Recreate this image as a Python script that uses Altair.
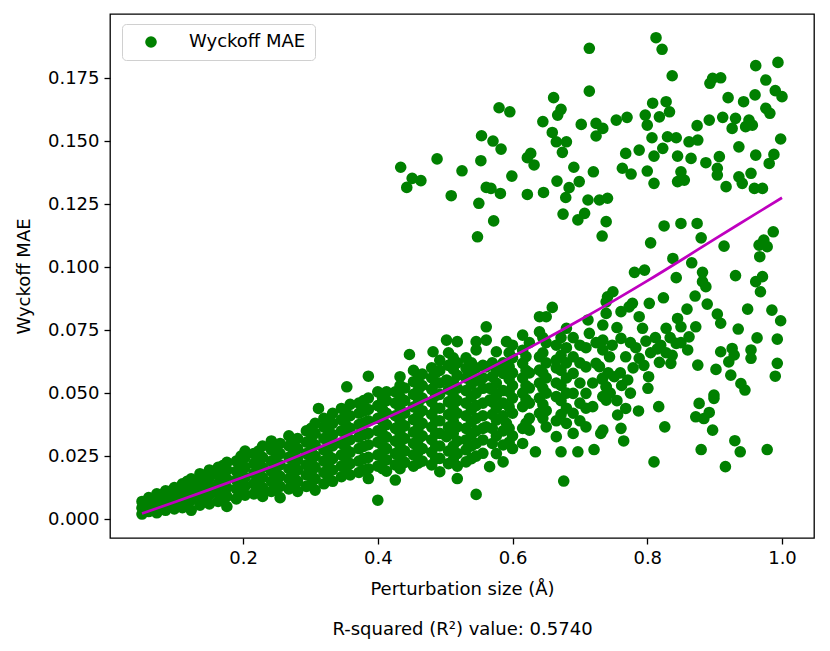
import altair as alt
import pandas as pd

# ---- upper cluster (large MAE group) ----
upper_x = [0.714, 0.714, 0.661, 0.580, 0.596, 0.672, 0.667, 0.645, 0.702, 0.724,
           0.734, 0.724, 0.659, 0.554, 0.571, 0.583, 0.665, 0.680, 0.674, 0.488,
           0.553, 0.627, 0.622, 0.632, 0.434, 0.525, 0.691, 0.720, 0.451, 0.464,
           0.443, 0.599, 0.666, 0.699, 0.684, 0.561, 0.568, 0.582, 0.509, 0.622,
           0.646, 0.679, 0.712, 0.729, 0.741, 0.550, 0.675, 0.707, 0.697, 0.739,
           0.572, 0.548, 0.733,
           0.813, 0.822, 0.837, 0.961, 0.994, 0.976, 0.897, 0.909, 0.893, 0.990,
           1.000, 0.920, 0.960, 0.943, 0.808, 0.828, 0.833, 0.976, 0.982, 0.797,
           0.818, 0.800, 0.754, 0.770, 0.874, 0.892, 0.912, 0.931, 0.951, 0.926,
           0.946, 0.956, 0.807, 0.830, 0.843, 0.862, 0.875, 0.998, 0.823, 0.936,
           0.768, 0.788, 0.810, 0.845, 0.865, 0.907, 0.961, 0.988, 0.887, 0.981,
           0.763, 0.776, 0.800, 0.850, 0.904, 0.904, 0.936, 0.954, 0.810, 0.845,
           0.855, 0.917, 0.941, 0.959, 0.971, 0.825, 0.850, 0.874, 0.880, 0.805,
           0.914, 0.987, 0.973, 0.966]
upper_y = [0.1868, 0.1698, 0.1672, 0.1632, 0.1616, 0.1626, 0.1603, 0.1577, 0.1566, 0.1570,
           0.1550, 0.1520, 0.1534, 0.1521, 0.1500, 0.1468, 0.1497, 0.1497, 0.1455, 0.1429,
           0.1422, 0.1451, 0.1434, 0.1405, 0.1396, 0.1382, 0.1396, 0.1378, 0.1352, 0.1343,
           0.1316, 0.1361, 0.1341, 0.1339, 0.1315, 0.1316, 0.1312, 0.1292, 0.1283, 0.1288,
           0.1296, 0.1276, 0.1266, 0.1266, 0.1273, 0.1253, 0.1210, 0.1213, 0.1187, 0.1180,
           0.1183, 0.1120, 0.1123,
           0.1910, 0.1864, 0.1759, 0.1799, 0.1812, 0.1742, 0.1749, 0.1751, 0.1729, 0.1700,
           0.1676, 0.1672, 0.1683, 0.1656, 0.1650, 0.1656, 0.1616, 0.1630, 0.1610, 0.1603,
           0.1596, 0.1563, 0.1583, 0.1594, 0.1561, 0.1583, 0.1594, 0.1590, 0.1583, 0.1550,
           0.1557, 0.1563, 0.1513, 0.1517, 0.1513, 0.1497, 0.1504, 0.1508, 0.1471, 0.1477,
           0.1451, 0.1464, 0.1440, 0.1440, 0.1431, 0.1438, 0.1444, 0.1447, 0.1414, 0.1411,
           0.1392, 0.1369, 0.1381, 0.1378, 0.1392, 0.1365, 0.1358, 0.1372, 0.1332, 0.1339,
           0.1345, 0.1319, 0.1332, 0.1312, 0.1312, 0.1163, 0.1173, 0.1173, 0.1116, 0.1096,
           0.1083, 0.1140, 0.1107, 0.1087]

# ---- lower-right spread ----
spread_x = [0.978, 0.967, 0.838, 0.866, 0.781, 0.796, 0.843, 0.882, 0.931, 0.971,
            0.961, 0.882, 0.887, 0.968, 0.749, 0.739, 0.824, 0.871, 0.889, 0.778,
            0.803, 0.859, 0.949, 0.985, 0.998, 0.904, 0.909, 0.845, 0.872, 0.935,
            0.963, 0.993, 0.761, 0.773, 0.788, 0.793, 0.828, 0.850, 0.798, 0.862,
            0.761, 0.815, 0.843, 0.860, 0.734, 0.734, 0.909, 0.926, 0.929, 0.954,
            0.954, 0.993, 0.990, 0.875, 0.902, 0.921, 0.924, 0.818, 0.835, 0.744,
            0.768, 0.788, 0.729, 0.751, 0.771, 0.802, 0.801, 0.739, 0.739, 0.939,
            0.945, 0.899, 0.899, 0.877, 0.817, 0.872, 0.892, 0.884, 0.897, 0.756,
            0.768, 0.787, 0.826, 0.761, 0.765, 0.731, 0.930, 0.938, 0.880, 0.978,
            0.810, 0.916,
            0.755, 0.775, 0.783, 0.805, 0.812, 0.820, 0.779, 0.760, 0.795, 0.748,
            0.828, 0.837, 0.850, 0.834, 0.745, 0.755, 0.762, 0.775, 0.733, 0.742]
spread_y = [0.1081, 0.1041, 0.1034, 0.1017, 0.0979, 0.0988, 0.0958, 0.0979, 0.0966, 0.0962,
            0.0942, 0.0942, 0.0922, 0.0902, 0.0902, 0.0862, 0.0878, 0.0885, 0.0853, 0.0856,
            0.0856, 0.0833, 0.0833, 0.0829, 0.0787, 0.0813, 0.0777, 0.0796, 0.0763, 0.0754,
            0.0719, 0.0714, 0.0823, 0.0842, 0.0803, 0.0757, 0.0757, 0.0763, 0.0706, 0.0723,
            0.0717, 0.0675, 0.0697, 0.0671, 0.0770, 0.0710, 0.0664, 0.0677, 0.0651, 0.0671,
            0.0638, 0.0618, 0.0567, 0.0611, 0.0594, 0.0624, 0.0571, 0.0622, 0.0618, 0.0644,
            0.0644, 0.0638, 0.0605, 0.0565, 0.0552, 0.0565, 0.0519, 0.0525, 0.0472, 0.0538,
            0.0512, 0.0492, 0.0479, 0.0459, 0.0446, 0.0406, 0.0423, 0.0399, 0.0353, 0.0413,
            0.0439, 0.0429, 0.0366, 0.0360, 0.0310, 0.0340, 0.0311, 0.0267, 0.0276, 0.0276,
            0.0227, 0.0208,
            0.0760, 0.0700, 0.0680, 0.0660, 0.0720, 0.0690, 0.0600, 0.0580, 0.0610, 0.0690,
            0.0660, 0.0650, 0.0700, 0.0720, 0.0500, 0.0470, 0.0530, 0.0500, 0.0555, 0.0580]

# ---- dense band (low perturbation) ----
band_x = [0.050, 0.050, 0.050, 0.060, 0.060, 0.060, 0.072, 0.072, 0.072, 0.072,
          0.085, 0.085, 0.085, 0.085, 0.098, 0.098, 0.098, 0.098, 0.110, 0.110,
          0.110, 0.110, 0.123, 0.123, 0.123, 0.123, 0.123, 0.136, 0.136, 0.136,
          0.136, 0.136, 0.150, 0.150, 0.150, 0.150, 0.150, 0.163, 0.163, 0.163,
          0.163, 0.163, 0.176, 0.176, 0.176, 0.176, 0.176, 0.176, 0.190, 0.190,
          0.190, 0.190, 0.190, 0.203, 0.203, 0.203, 0.203, 0.203, 0.203, 0.216,
          0.216, 0.216, 0.216, 0.216, 0.229, 0.229, 0.229, 0.229, 0.229, 0.229,
          0.242, 0.242, 0.242, 0.242, 0.242, 0.242, 0.255, 0.255, 0.255, 0.255,
          0.255, 0.255, 0.268, 0.268, 0.268, 0.268, 0.268, 0.268, 0.281, 0.281,
          0.281, 0.281, 0.281, 0.281, 0.294, 0.294, 0.294, 0.294, 0.294, 0.294,
          0.307, 0.307, 0.307, 0.307, 0.307, 0.307, 0.307, 0.312, 0.320, 0.320,
          0.320, 0.320, 0.320, 0.320, 0.320, 0.333, 0.333, 0.333, 0.333, 0.333,
          0.333, 0.333, 0.346, 0.346, 0.346, 0.346, 0.346, 0.346, 0.346, 0.354,
          0.359, 0.359, 0.359, 0.359, 0.359, 0.359, 0.359, 0.372, 0.372, 0.372,
          0.372, 0.372, 0.372, 0.372, 0.386, 0.386, 0.386, 0.386, 0.386, 0.386,
          0.386, 0.386, 0.386, 0.400, 0.400, 0.400, 0.400, 0.400, 0.400, 0.400,
          0.400, 0.413, 0.413, 0.413, 0.413, 0.413, 0.413, 0.413, 0.413, 0.426,
          0.426, 0.426, 0.426, 0.426, 0.426, 0.426, 0.426, 0.433, 0.440, 0.440,
          0.440, 0.440, 0.440, 0.440, 0.440, 0.447, 0.453, 0.453, 0.453, 0.453,
          0.453, 0.453, 0.453, 0.453, 0.453, 0.466, 0.466, 0.466, 0.466, 0.466,
          0.466, 0.466, 0.466, 0.480, 0.480, 0.480, 0.480, 0.480, 0.480, 0.480,
          0.480, 0.480, 0.482, 0.492, 0.492, 0.492, 0.492, 0.492, 0.492, 0.492,
          0.492, 0.492, 0.492, 0.502, 0.502, 0.502, 0.505, 0.505, 0.505, 0.505,
          0.505, 0.505, 0.505, 0.505, 0.518, 0.518, 0.518, 0.518, 0.518, 0.518,
          0.518, 0.518, 0.518, 0.518, 0.518, 0.531, 0.531, 0.531, 0.531, 0.531,
          0.531, 0.531, 0.531, 0.531, 0.531, 0.546, 0.546, 0.546, 0.546, 0.546,
          0.546, 0.546, 0.546, 0.546, 0.546, 0.546, 0.556, 0.556, 0.556, 0.556,
          0.556, 0.556, 0.556, 0.556, 0.561, 0.561, 0.561, 0.561, 0.566, 0.566,
          0.566, 0.576, 0.576, 0.576, 0.576, 0.576, 0.576, 0.576, 0.576, 0.586,
          0.586, 0.586, 0.586, 0.586, 0.586, 0.586, 0.586, 0.591, 0.591, 0.600,
          0.600, 0.600, 0.600, 0.600, 0.600, 0.600, 0.600, 0.615, 0.615, 0.615,
          0.615, 0.615, 0.615, 0.615, 0.615, 0.625, 0.625, 0.625, 0.625, 0.625,
          0.625, 0.634, 0.640, 0.640, 0.640, 0.640, 0.640, 0.640, 0.640, 0.650,
          0.650, 0.650, 0.650, 0.650, 0.650, 0.650, 0.659, 0.665, 0.665, 0.665,
          0.665, 0.665, 0.665, 0.665, 0.672, 0.676, 0.680, 0.680, 0.680, 0.680,
          0.680, 0.680, 0.680, 0.690, 0.690, 0.690, 0.690, 0.690, 0.690, 0.697,
          0.709, 0.709, 0.709, 0.709, 0.709, 0.712, 0.714, 0.719, 0.719, 0.721,
          0.724, 0.724, 0.734, 0.734, 0.734, 0.734, 0.739, 0.739, 0.741]
band_y = [0.0020, 0.0045, 0.0070, 0.0030, 0.0060, 0.0085, 0.0025, 0.0050, 0.0080, 0.0100,
          0.0035, 0.0065, 0.0095, 0.0112, 0.0040, 0.0070, 0.0100, 0.0125, 0.0045, 0.0080,
          0.0110, 0.0140, 0.0035, 0.0075, 0.0105, 0.0135, 0.0160, 0.0055, 0.0090, 0.0120,
          0.0150, 0.0180, 0.0060, 0.0095, 0.0130, 0.0165, 0.0195, 0.0070, 0.0105, 0.0140,
          0.0175, 0.0205, 0.0050, 0.0090, 0.0125, 0.0160, 0.0195, 0.0225, 0.0080, 0.0120,
          0.0155, 0.0190, 0.0230, 0.0095, 0.0130, 0.0165, 0.0205, 0.0245, 0.0270, 0.0100,
          0.0140, 0.0180, 0.0220, 0.0260, 0.0090, 0.0125, 0.0165, 0.0205, 0.0245, 0.0290,
          0.0110, 0.0150, 0.0190, 0.0230, 0.0275, 0.0310, 0.0085, 0.0130, 0.0170, 0.0215,
          0.0260, 0.0300, 0.0120, 0.0160, 0.0200, 0.0245, 0.0290, 0.0330, 0.0110, 0.0150,
          0.0195, 0.0235, 0.0280, 0.0320, 0.0130, 0.0175, 0.0215, 0.0260, 0.0305, 0.0350,
          0.0115, 0.0160, 0.0205, 0.0250, 0.0295, 0.0340, 0.0380, 0.0439, 0.0140, 0.0185,
          0.0230, 0.0275, 0.0320, 0.0365, 0.0400, 0.0150, 0.0195, 0.0240, 0.0290, 0.0335,
          0.0380, 0.0420, 0.0168, 0.0210, 0.0255, 0.0300, 0.0350, 0.0395, 0.0439, 0.0525,
          0.0175, 0.0220, 0.0265, 0.0315, 0.0360, 0.0410, 0.0455, 0.0185, 0.0230, 0.0280,
          0.0325, 0.0375, 0.0420, 0.0460, 0.0161, 0.0200, 0.0245, 0.0295, 0.0340, 0.0390,
          0.0435, 0.0480, 0.0567, 0.0075, 0.0210, 0.0255, 0.0305, 0.0350, 0.0400, 0.0450,
          0.0505, 0.0190, 0.0235, 0.0280, 0.0325, 0.0375, 0.0420, 0.0470, 0.0505, 0.0155,
          0.0215, 0.0260, 0.0310, 0.0360, 0.0410, 0.0460, 0.0505, 0.0565, 0.0225, 0.0270,
          0.0320, 0.0370, 0.0420, 0.0470, 0.0520, 0.0653, 0.0210, 0.0255, 0.0300, 0.0345,
          0.0395, 0.0445, 0.0495, 0.0545, 0.0590, 0.0230, 0.0280, 0.0330, 0.0380, 0.0430,
          0.0480, 0.0530, 0.0575, 0.0215, 0.0265, 0.0315, 0.0365, 0.0415, 0.0465, 0.0515,
          0.0560, 0.0600, 0.0664, 0.0188, 0.0241, 0.0290, 0.0340, 0.0390, 0.0440, 0.0495,
          0.0540, 0.0590, 0.0630, 0.0327, 0.0552, 0.0710, 0.0220, 0.0270, 0.0365, 0.0415,
          0.0465, 0.0515, 0.0610, 0.0660, 0.0161, 0.0210, 0.0260, 0.0310, 0.0366, 0.0420,
          0.0470, 0.0520, 0.0570, 0.0620, 0.0704, 0.0227, 0.0275, 0.0314, 0.0360, 0.0410,
          0.0460, 0.0510, 0.0560, 0.0598, 0.0640, 0.0098, 0.0250, 0.0300, 0.0350, 0.0400,
          0.0450, 0.0500, 0.0550, 0.0600, 0.0671, 0.0704, 0.0261, 0.0314, 0.0360, 0.0410,
          0.0460, 0.0519, 0.0560, 0.0610, 0.0366, 0.0604, 0.0710, 0.0763, 0.0208, 0.0472,
          0.0520, 0.0260, 0.0330, 0.0393, 0.0440, 0.0490, 0.0540, 0.0590, 0.0664, 0.0227,
          0.0294, 0.0350, 0.0410, 0.0460, 0.0510, 0.0578, 0.0620, 0.0380, 0.0704, 0.0280,
          0.0330, 0.0420, 0.0480, 0.0530, 0.0580, 0.0640, 0.0690, 0.0300, 0.0360, 0.0446,
          0.0500, 0.0560, 0.0618, 0.0670, 0.0730, 0.0353, 0.0400, 0.0460, 0.0520, 0.0580,
          0.0700, 0.0267, 0.0420, 0.0480, 0.0540, 0.0591, 0.0644, 0.0743, 0.0803, 0.0366,
          0.0430, 0.0500, 0.0560, 0.0620, 0.0700, 0.0803, 0.0840, 0.0327, 0.0390, 0.0486,
          0.0540, 0.0600, 0.0631, 0.0690, 0.0267, 0.0151, 0.0380, 0.0440, 0.0500, 0.0560,
          0.0620, 0.0680, 0.0757, 0.0340, 0.0420, 0.0499, 0.0578, 0.0644, 0.0720, 0.0267,
          0.0366, 0.0440, 0.0499, 0.0604, 0.0680, 0.0790, 0.0737, 0.0446, 0.0540, 0.0276,
          0.0618, 0.0700, 0.0353, 0.0486, 0.0560, 0.0671, 0.0816, 0.0525, 0.0882]

# ---- dense band, in-between points ----
fill_x = [0.0665, 0.0665,
          0.0915, 0.0915, 0.0915,
          0.117, 0.117, 0.117, 0.117,
          0.143, 0.143, 0.143, 0.143,
          0.170, 0.170, 0.170, 0.170, 0.170,
          0.197, 0.197, 0.197, 0.197, 0.197,
          0.223, 0.223, 0.223, 0.223, 0.223,
          0.249, 0.249, 0.249, 0.249, 0.249,
          0.275, 0.275, 0.275, 0.275, 0.275,
          0.301, 0.301, 0.301, 0.301, 0.301, 0.301,
          0.327, 0.327, 0.327, 0.327, 0.327, 0.327,
          0.353, 0.353, 0.353, 0.353, 0.353, 0.353,
          0.379, 0.379, 0.379, 0.379, 0.379, 0.379, 0.379,
          0.407, 0.407, 0.407, 0.407, 0.407, 0.407, 0.407,
          0.433, 0.433, 0.433, 0.433, 0.433, 0.433, 0.433, 0.433,
          0.460, 0.460, 0.460, 0.460, 0.460, 0.460, 0.460, 0.460,
          0.486, 0.486, 0.486, 0.486, 0.486, 0.486, 0.486, 0.486,
          0.512, 0.512, 0.512, 0.512, 0.512, 0.512, 0.512, 0.512, 0.512,
          0.539, 0.539, 0.539, 0.539, 0.539, 0.539, 0.539, 0.539, 0.539,
          0.570, 0.570, 0.570, 0.570, 0.570, 0.570, 0.570,
          0.595, 0.595, 0.595, 0.595, 0.595, 0.595, 0.595,
          0.620, 0.620, 0.620, 0.620, 0.620,
          0.645, 0.645, 0.645, 0.645, 0.645, 0.645,
          0.672, 0.672, 0.672, 0.672, 0.672, 0.672,
          0.700, 0.700, 0.700, 0.700, 0.700]
fill_y = [0.0040, 0.0070,
          0.0055, 0.0085, 0.0110,
          0.0060, 0.0090, 0.0122, 0.0150,
          0.0075, 0.0108, 0.0140, 0.0170,
          0.0075, 0.0110, 0.0145, 0.0180, 0.0212,
          0.0100, 0.0140, 0.0175, 0.0212, 0.0250,
          0.0110, 0.0150, 0.0190, 0.0230, 0.0270,
          0.0120, 0.0160, 0.0200, 0.0245, 0.0288,
          0.0135, 0.0175, 0.0220, 0.0265, 0.0305,
          0.0138, 0.0183, 0.0228, 0.0272, 0.0318, 0.0360,
          0.0163, 0.0208, 0.0252, 0.0298, 0.0345, 0.0390,
          0.0190, 0.0232, 0.0278, 0.0325, 0.0372, 0.0420,
          0.0195, 0.0240, 0.0288, 0.0335, 0.0382, 0.0428, 0.0470,
          0.0200, 0.0245, 0.0292, 0.0338, 0.0388, 0.0435, 0.0480,
          0.0200, 0.0245, 0.0290, 0.0340, 0.0390, 0.0440, 0.0485, 0.0530,
          0.0222, 0.0268, 0.0315, 0.0362, 0.0412, 0.0462, 0.0512, 0.0560,
          0.0240, 0.0290, 0.0340, 0.0390, 0.0440, 0.0490, 0.0538, 0.0580,
          0.0235, 0.0290, 0.0340, 0.0390, 0.0440, 0.0490, 0.0545, 0.0595, 0.0640,
          0.0240, 0.0290, 0.0335, 0.0385, 0.0435, 0.0485, 0.0535, 0.0580, 0.0620,
          0.0300, 0.0360, 0.0415, 0.0465, 0.0515, 0.0565, 0.0620,
          0.0305, 0.0360, 0.0445, 0.0505, 0.0555, 0.0605, 0.0660,
          0.0380, 0.0475, 0.0530, 0.0590, 0.0645,
          0.0400, 0.0455, 0.0520, 0.0580, 0.0660, 0.0720,
          0.0415, 0.0470, 0.0530, 0.0590, 0.0650, 0.0720,
          0.0390, 0.0460, 0.0540, 0.0620, 0.0690]

# ---- fitted curve ----
fit_x = [0.05, 0.10, 0.15, 0.20, 0.25, 0.30, 0.35, 0.40, 0.45, 0.50,
         0.55, 0.60, 0.65, 0.70, 0.75, 0.80, 0.85, 0.90, 0.95, 1.00]
fit_y = [0.0022, 0.0069, 0.0117, 0.0166, 0.0216, 0.0270, 0.0327, 0.0386, 0.0447, 0.0510,
         0.0576, 0.0645, 0.0716, 0.0790, 0.0866, 0.0945, 0.1027, 0.1111, 0.1193, 0.1275]

x_ticks = [0.2, 0.4, 0.6, 0.8, 1.0]
y_ticks = [0.000, 0.025, 0.050, 0.075, 0.100, 0.125, 0.150, 0.175]
series_name = "Wyckoff MAE"
r2_text = "R-squared (R²) value: 0.5740"

all_x = band_x + fill_x + spread_x + upper_x
all_y = band_y + fill_y + spread_y + upper_y
pts = pd.DataFrame({"x": all_x, "y": all_y, "series": [series_name] * len(all_x)})
fit = pd.DataFrame({"x": fit_x, "y": fit_y})

FONT = "DejaVu Sans"
xscale = alt.Scale(domain=[0.0025, 1.0475], nice=False, zero=False)
yscale = alt.Scale(domain=[-0.0075, 0.2004], nice=False, zero=False)

xaxis = alt.Axis(values=x_ticks, format=".1f", grid=False, domain=False,
                 title=["Perturbation size (Å)", r2_text], titleLineHeight=40,
                 titlePadding=13)
yaxis = alt.Axis(values=y_ticks, format=".3f", grid=False, domain=False,
                 title="Wyckoff MAE", titlePadding=14)

points = alt.Chart(pts).mark_circle(size=135, opacity=1).encode(
    x=alt.X("x:Q", scale=xscale, axis=xaxis),
    y=alt.Y("y:Q", scale=yscale, axis=yaxis),
    color=alt.Color("series:N",
                    scale=alt.Scale(domain=[series_name], range=["#008000"]),
                    legend=alt.Legend(title=None, orient="none", legendX=12, legendY=10,
                                      strokeColor="#d0d0d0", fillColor="white",
                                      cornerRadius=4, padding=9,
                                      symbolType="circle", symbolSize=135,
                                      symbolOffset=11, labelOffset=29,
                                      labelFont=FONT, labelFontSize=18,
                                      labelColor="black")),
)

line = alt.Chart(fit).mark_line(color="#bf00bf", strokeWidth=2.7, interpolate="monotone").encode(
    x=alt.X("x:Q", scale=xscale),
    y=alt.Y("y:Q", scale=yscale),
)

chart = alt.layer(points, line).properties(
    width=704, height=524,
    background="white",
    autosize=alt.AutoSizeParams(type="none"),
    padding={"left": 102, "top": 6, "right": 8, "bottom": 105},
).configure_view(
    stroke="black", strokeWidth=1.3
).configure_axis(
    labelFont=FONT, labelFontSize=18, labelColor="black",
    titleFont=FONT, titleFontSize=18, titleColor="black", titleFontWeight="normal",
    tickColor="black", tickSize=6, tickWidth=1.3, labelPadding=5,
)

chart.save("out.html", embed_options={"renderer": "svg", "actions": False})
